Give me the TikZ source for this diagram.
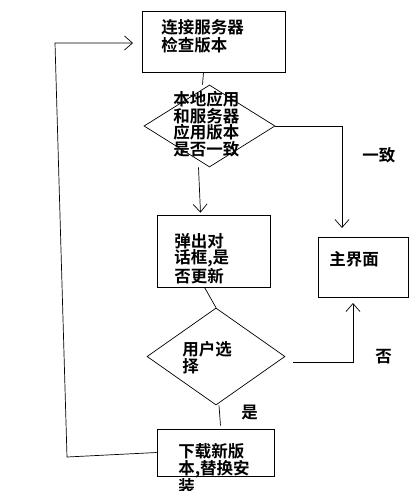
\documentclass[tikz,border=0pt]{standalone}
\usepackage{fontspec}
\newfontfamily\cjk{Noto Sans CJK SC}[UprightFont=* Bold]
\usetikzlibrary{calc,shapes.geometric,arrows.meta}
\tikzstyle{box}=[rectangle,draw=black,fill=white,inner sep=0pt]
\tikzstyle{ask}=[diamond,draw=black,inner sep=0pt]
\tikzstyle{word}=[anchor=north west,inner sep=0pt,align=left,font=\cjk\fontsize{16.5}{16}\selectfont]
\tikzstyle{flow}=[line width=0.7pt,-{Straight Barb[length=8pt,width=14pt,line width=0.7pt]}]

\begin{document}
\begin{tikzpicture}[x=1pt,y=-1pt,line width=0.7pt]
		\useasboundingbox (0,0) rectangle (418,491);
		\node [box,minimum width=143pt,minimum height=61pt] (connect) at (213.5,41.5) {};
		\node [ask,minimum width=131pt,minimum height=82pt] (same) at (209.5,126) {};
		\node [box,minimum width=113pt,minimum height=72pt] (dialog) at (213.5,251) {};
		\node [box,minimum width=90pt,minimum height=60pt] (main) at (363,267) {};
		\node [ask,minimum width=138pt,minimum height=97pt] (choose) at (216,356.5) {};
		\node [box,minimum width=117pt,minimum height=47pt] (down) at (215.5,452.5) {};
		% texts
		\node [word,font=\cjk\fontsize{16.5}{18}\selectfont] (t1) at (161,19) {连接服务器\\检查版本};
		\node [word,font=\cjk\fontsize{16.5}{15.5}\selectfont] (t2) at (173,91) {本地应用\\和服务器\\应用版本\\是否一致};
		\node [word] (t3) at (174,233) {弹出对\\话框,是\\否更新};
		\node [word] (t4) at (329,251) {主界面};
		\node [word,font=\cjk\fontsize{16.5}{17}\selectfont] (t5) at (182,341) {用户选\\择};
		\node [word,font=\cjk\fontsize{16.5}{15.5}\selectfont] (t6) at (178,443) {下载新版\\本,替换安\\装};
		\node [word] (yes1) at (362,147) {一致};
		\node [word] (no) at (375,349) {否};
		\node [word] (yes2) at (241,405) {是};
		\coordinate (back) at (133,43);
		\coordinate (toMain) at (342,228);
		\coordinate (fromMain) at (353,303);
		\coordinate (noStart) at ($(choose.east)+(8,6)$);
		% lines
		\draw ($(connect.south)+(-10,0)$)--($(same.north)+(-7,0)$);
		\draw [flow] ($(same.south)+(-11,0)$)--($(dialog.north)+(-13,-2)$);
		\draw [flow] (same.east)--(same.east -| toMain)--(toMain);
		\draw ($(dialog.south)+(-9,0)$)--(choose.north);
		\draw [flow] (noStart)--(noStart -| fromMain)--(fromMain);
		\draw ($(choose.south)+(3,0)$)--($(down.north)+(5,-3)$);
		\draw [flow] (down.west)--(67,457)--(55,43)--(back);
\end{tikzpicture}
\end{document}
